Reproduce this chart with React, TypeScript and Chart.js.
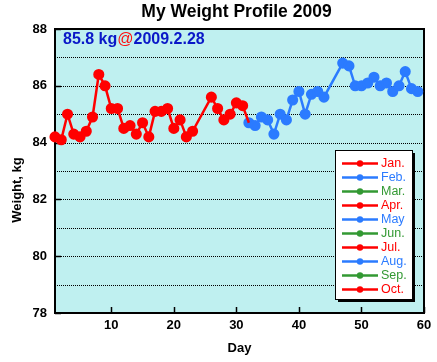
import { useEffect, useRef } from 'react';
import { Chart, registerables } from 'chart.js';

Chart.register(...registerables);

const titleText = 'My Weight Profile 2009';
const xAxisTitle = 'Day';
const yAxisTitle = 'Weight, kg';
const noteValue = '85.8 kg';
const noteAt = '@';
const noteDate = '2009.2.28';

const months = ['Jan.', 'Feb.', 'Mar.', 'Apr.', 'May', 'Jun.', 'Jul.', 'Aug.', 'Sep.', 'Oct.'];
const seriesColors = ['#ff0000', '#2b7bff', '#339933'];

// day-of-year start for each month with data
const janStartDay = 1;
const febStartDay = 32;

const janWeights: (number | null)[] = [
  84.2, 84.1, 85.0, 84.3, 84.2, 84.4, 84.9, 86.4, 86.0, 85.2,
  85.2, 84.5, 84.6, 84.3, 84.7, 84.2, 85.1, 85.1, 85.2, 84.5,
  84.8, 84.2, 84.4, null, null, 85.6, 85.2, 84.8, 85.0, 85.4,
  85.3,
];
const febWeights: (number | null)[] = [
  84.7, 84.6, 84.9, 84.8, 84.3, 85.0, 84.8, 85.5, 85.8, 85.0,
  85.7, 85.8, 85.6, null, null, 86.8, 86.7, 86.0, 86.0, 86.1,
  86.3, 86.0, 86.1, 85.8, 86.0, 86.5, 85.9, 85.8,
];

const xTicks = [10, 20, 30, 40, 50, 60];
const yLabelTicks = [78, 80, 82, 84, 86, 88];
const yGridLines = [79, 80, 81, 82, 83, 84, 85, 86, 87];
const xMin = 1;
const xMax = 60;
const yMin = 78;
const yMax = 88;

const FONT = '"Liberation Sans", Arial, Helvetica, sans-serif';

function toPoints(values: (number | null)[], start: number) {
  return values.map((v, i) => ({ x: start + i, y: v }));
}

export default function App() {
  const ref = useRef<HTMLCanvasElement | null>(null);

  useEffect(() => {
    const canvas = ref.current;
    if (!canvas) return;

    const janPts = [...toPoints(janWeights, janStartDay), { x: febStartDay, y: febWeights[0] }];
    const febPts = toPoints(febWeights, febStartDay);

    const datasets = months.map((m, i) => {
      const color = seriesColors[i % seriesColors.length];
      let data: any[] = [];
      if (i === 0) data = janPts;
      if (i === 1) data = febPts;
      return {
        label: m,
        data,
        borderColor: color,
        backgroundColor: color,
        pointBackgroundColor: color,
        pointBorderColor: color,
        borderWidth: 2.5,
        pointRadius: (ctx: any) => (i === 0 && ctx.dataIndex === janWeights.length ? 0 : 4.3),
        pointHoverRadius: 4.3,
        spanGaps: true,
        tension: 0,
        clip: 10,
      };
    });

    const framePlugin = {
      id: 'frame',
      beforeDraw(chart: any) {
        const { ctx, chartArea: a, scales } = chart;
        ctx.save();
        ctx.fillStyle = '#ffffff';
        ctx.fillRect(0, 0, chart.width, chart.height);
        ctx.fillStyle = '#bff0f0';
        ctx.fillRect(a.left, a.top, a.right - a.left, a.bottom - a.top);
        ctx.strokeStyle = '#000';
        ctx.lineWidth = 1;
        ctx.setLineDash([1, 1]);
        for (const v of yGridLines) {
          const y = Math.round(scales.y.getPixelForValue(v)) + 0.5;
          ctx.beginPath();
          ctx.moveTo(a.left, y);
          ctx.lineTo(a.right, y);
          ctx.stroke();
        }
        ctx.setLineDash([]);
        ctx.restore();
      },
      beforeDatasetsDraw(chart: any) {
        const { ctx, chartArea: a, scales } = chart;
        ctx.save();
        ctx.strokeStyle = '#000';
        ctx.lineWidth = 1.5;
        for (const v of yLabelTicks) {
          const y = Math.round(scales.y.getPixelForValue(v)) + 0.5;
          ctx.beginPath();
          ctx.moveTo(a.left, y);
          ctx.lineTo(a.left + 6, y);
          ctx.stroke();
        }
        for (const v of xTicks) {
          const x = Math.round(scales.x.getPixelForValue(v)) + 0.5;
          ctx.beginPath();
          ctx.moveTo(x, a.bottom);
          ctx.lineTo(x, a.bottom - 6);
          ctx.stroke();
        }
        ctx.lineWidth = 2;
        ctx.strokeRect(a.left, a.top, a.right - a.left, a.bottom - a.top);
        ctx.restore();
      },
      afterDraw(chart: any) {
        const { ctx, chartArea: a } = chart;
        ctx.save();
        // title
        ctx.fillStyle = '#000';
        ctx.font = `bold 17.5px ${FONT}`;
        ctx.textAlign = 'center';
        ctx.textBaseline = 'middle';
        ctx.fillText(titleText, (a.left + a.right) / 2 - 3, 12);
        // axis titles
        ctx.font = `bold 13px ${FONT}`;
        ctx.fillText(xAxisTitle, (a.left + a.right) / 2, 348);
        ctx.save();
        ctx.translate(17, 190);
        ctx.rotate(-Math.PI / 2);
        ctx.fillText(yAxisTitle, 0, 0);
        ctx.restore();
        // note
        ctx.textAlign = 'left';
        ctx.textBaseline = 'alphabetic';
        ctx.font = `bold 16px ${FONT}`;
        let x = a.left + 8;
        const yb = a.top + 14.5;
        ctx.fillStyle = '#0a18c8';
        ctx.fillText(noteValue, x, yb);
        x += ctx.measureText(noteValue).width;
        ctx.fillStyle = '#ff1010';
        ctx.font = `16px ${FONT}`;
        ctx.fillText(noteAt, x, yb);
        x += ctx.measureText(noteAt).width;
        ctx.fillStyle = '#0a18c8';
        ctx.font = `bold 16px ${FONT}`;
        ctx.fillText(noteDate, x, yb);
        // legend
        const bx = a.right - 89;
        const by = a.top + 121;
        const bw = 77;
        const bh = 149;
        ctx.fillStyle = '#000';
        ctx.fillRect(bx + 3, by + 3, bw, bh);
        ctx.fillStyle = '#fff';
        ctx.fillRect(bx, by, bw, bh);
        ctx.strokeStyle = '#000';
        ctx.lineWidth = 1;
        ctx.strokeRect(bx + 0.5, by + 0.5, bw, bh);
        ctx.font = `12.5px ${FONT}`;
        ctx.textBaseline = 'middle';
        chart.data.datasets.forEach((ds: any, i: number) => {
          const ly = by + 13.5 + i * 14;
          ctx.strokeStyle = ds.borderColor;
          ctx.fillStyle = ds.borderColor;
          ctx.lineWidth = 2.5;
          ctx.beginPath();
          ctx.moveTo(bx + 7, ly);
          ctx.lineTo(bx + 43, ly);
          ctx.stroke();
          ctx.beginPath();
          ctx.arc(bx + 25, ly, 3.2, 0, Math.PI * 2);
          ctx.fill();
          ctx.fillText(ds.label, bx + 46, ly + 0.5);
        });
        ctx.restore();
      },
    };

    const chart = new Chart(canvas, {
      type: 'line',
      data: { datasets: datasets as any },
      options: {
        responsive: false,
        animation: false,
        events: [],
        layout: { padding: { left: 0, top: 29, right: 13, bottom: 0 } },
        plugins: { legend: { display: false }, title: { display: false }, tooltip: { enabled: false } },
        scales: {
          x: {
            type: 'linear',
            min: xMin,
            max: xMax,
            afterBuildTicks: (s: any) => {
              s.ticks = xTicks.map((v) => ({ value: v }));
            },
            afterFit: (s: any) => {
              s.height = 49;
            },
            grid: { display: false, drawTicks: false },
            border: { display: false },
            ticks: {
              color: '#000',
              font: { family: FONT, size: 13, weight: 'bold' },
              padding: 5,
              maxRotation: 0,
              autoSkip: false,
            },
          },
          y: {
            type: 'linear',
            min: yMin,
            max: yMax,
            afterBuildTicks: (s: any) => {
              s.ticks = yLabelTicks.map((v) => ({ value: v }));
            },
            afterFit: (s: any) => {
              s.width = 55;
            },
            grid: { display: false, drawTicks: false },
            border: { display: false },
            ticks: {
              color: '#000',
              font: { family: FONT, size: 13, weight: 'bold' },
              padding: 8,
              autoSkip: false,
            },
          },
        },
      },
      plugins: [framePlugin],
    });

    return () => chart.destroy();
  }, []);

  return (
    <div style={{ position: 'fixed', left: 0, top: 0, width: 437, height: 362 }}>
      <canvas ref={ref} width={437} height={362} />
    </div>
  );
}
